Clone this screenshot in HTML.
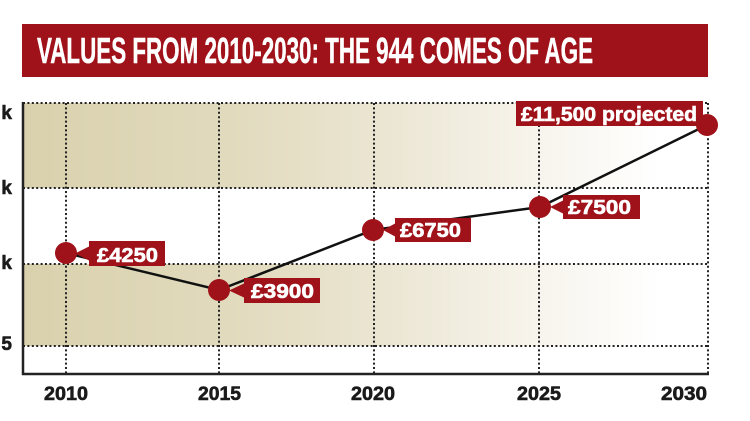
<!DOCTYPE html>
<html>
<head>
<meta charset="utf-8">
<style>
  html,body{margin:0;padding:0;background:#fff;}
  svg{display:block;}
</style>
</head>
<body>
<svg width="750" height="421" viewBox="0 0 750 421" xmlns="http://www.w3.org/2000/svg">
  <defs>
    <linearGradient id="tan" x1="23" y1="0" x2="708" y2="0" gradientUnits="userSpaceOnUse">
      <stop offset="0" stop-color="#d9d1ad"/>
      <stop offset="0.3" stop-color="#e1dabd"/>
      <stop offset="0.55" stop-color="#ece7d5"/>
      <stop offset="0.75" stop-color="#f7f4ec"/>
      <stop offset="0.93" stop-color="#ffffff"/>
      <stop offset="1" stop-color="#ffffff"/>
    </linearGradient>
  </defs>

  <!-- Title bar -->
  <rect x="22" y="24" width="686" height="53" fill="#a01219"/>
  <text x="37" y="63" font-family="Liberation Sans, sans-serif" font-weight="bold" font-size="36" fill="#fff" stroke="#fff" stroke-width="0.5" textLength="556" lengthAdjust="spacingAndGlyphs">VALUES FROM 2010-2030: THE 944 COMES OF AGE</text>

  <!-- Bands -->
  <rect x="23" y="103" width="685" height="85" fill="url(#tan)"/>
  <rect x="23" y="264" width="685" height="82" fill="url(#tan)"/>

  <!-- Dotted grid -->
  <g stroke="#222" stroke-width="2" stroke-dasharray="2 2.4" fill="none">
    <line x1="23" y1="103" x2="708" y2="103"/>
    <line x1="23" y1="188" x2="708" y2="188"/>
    <line x1="23" y1="264" x2="708" y2="264"/>
    <line x1="23" y1="346" x2="708" y2="346"/>
    <line x1="66" y1="103" x2="66" y2="374"/>
    <line x1="219" y1="103" x2="219" y2="374"/>
    <line x1="374" y1="103" x2="374" y2="374"/>
    <line x1="539" y1="103" x2="539" y2="374"/>
    <line x1="708" y1="103" x2="708" y2="374"/>
  </g>

  <!-- Axes -->
  <line x1="23" y1="102" x2="23" y2="375" stroke="#222" stroke-width="2.5"/>
  <line x1="22" y1="374" x2="709" y2="374" stroke="#222" stroke-width="2.5"/>

  <!-- Y labels (cropped) -->
  <g font-family="Liberation Sans, sans-serif" font-weight="bold" font-size="19" fill="#1a1a1a" stroke="#1a1a1a" stroke-width="0.6" text-anchor="end">
    <text x="12" y="119">k</text>
    <text x="12" y="194">k</text>
    <text x="12" y="269">k</text>
    <text x="12" y="350">5</text>
  </g>

  <!-- X labels -->
  <g font-family="Liberation Sans, sans-serif" font-weight="bold" font-size="19" fill="#1a1a1a" stroke="#1a1a1a" stroke-width="0.6">
    <text x="44" y="400" textLength="44" lengthAdjust="spacingAndGlyphs">2010</text>
    <text x="198" y="400" textLength="43" lengthAdjust="spacingAndGlyphs">2015</text>
    <text x="351" y="400" textLength="44" lengthAdjust="spacingAndGlyphs">2020</text>
    <text x="517" y="400" textLength="44" lengthAdjust="spacingAndGlyphs">2025</text>
    <text x="661" y="400" textLength="46" lengthAdjust="spacingAndGlyphs">2030</text>
  </g>

  <!-- Line -->
  <polyline points="66,253 219,290 373,230 540,207 707,125" fill="none" stroke="#111" stroke-width="2.5"/>

  <!-- Labels -->
  <g fill="#a01219">
    <rect x="89" y="241" width="76" height="25"/>
    <polygon points="75,253.5 90,246 90,261"/>
    <rect x="244" y="278" width="76" height="25"/>
    <polygon points="229,290.5 245,283 245,298"/>
    <rect x="395" y="218" width="76" height="24"/>
    <polygon points="383,230 396,223 396,237"/>
    <rect x="563" y="195" width="77" height="24"/>
    <polygon points="550,207 564,200 564,214"/>
    <rect x="516" y="101" width="187" height="25"/>
  </g>
  <g font-family="Liberation Sans, sans-serif" font-weight="bold" font-size="20" fill="#fff" stroke="#fff" stroke-width="0.6">
    <text x="97" y="262" textLength="61" lengthAdjust="spacingAndGlyphs">£4250</text>
    <text x="251" y="298" textLength="63" lengthAdjust="spacingAndGlyphs">£3900</text>
    <text x="400" y="237" textLength="61" lengthAdjust="spacingAndGlyphs">£6750</text>
    <text x="568" y="214" textLength="63" lengthAdjust="spacingAndGlyphs">£7500</text>
    <text x="521" y="121" textLength="176" lengthAdjust="spacingAndGlyphs">£11,500 projected</text>
  </g>

  <!-- Points -->
  <g fill="#a01219">
    <circle cx="66" cy="253" r="11"/>
    <circle cx="219" cy="290" r="11"/>
    <circle cx="373" cy="230" r="11"/>
    <circle cx="540" cy="207" r="11"/>
    <circle cx="707" cy="125" r="11"/>
  </g>
</svg>
</body>
</html>
